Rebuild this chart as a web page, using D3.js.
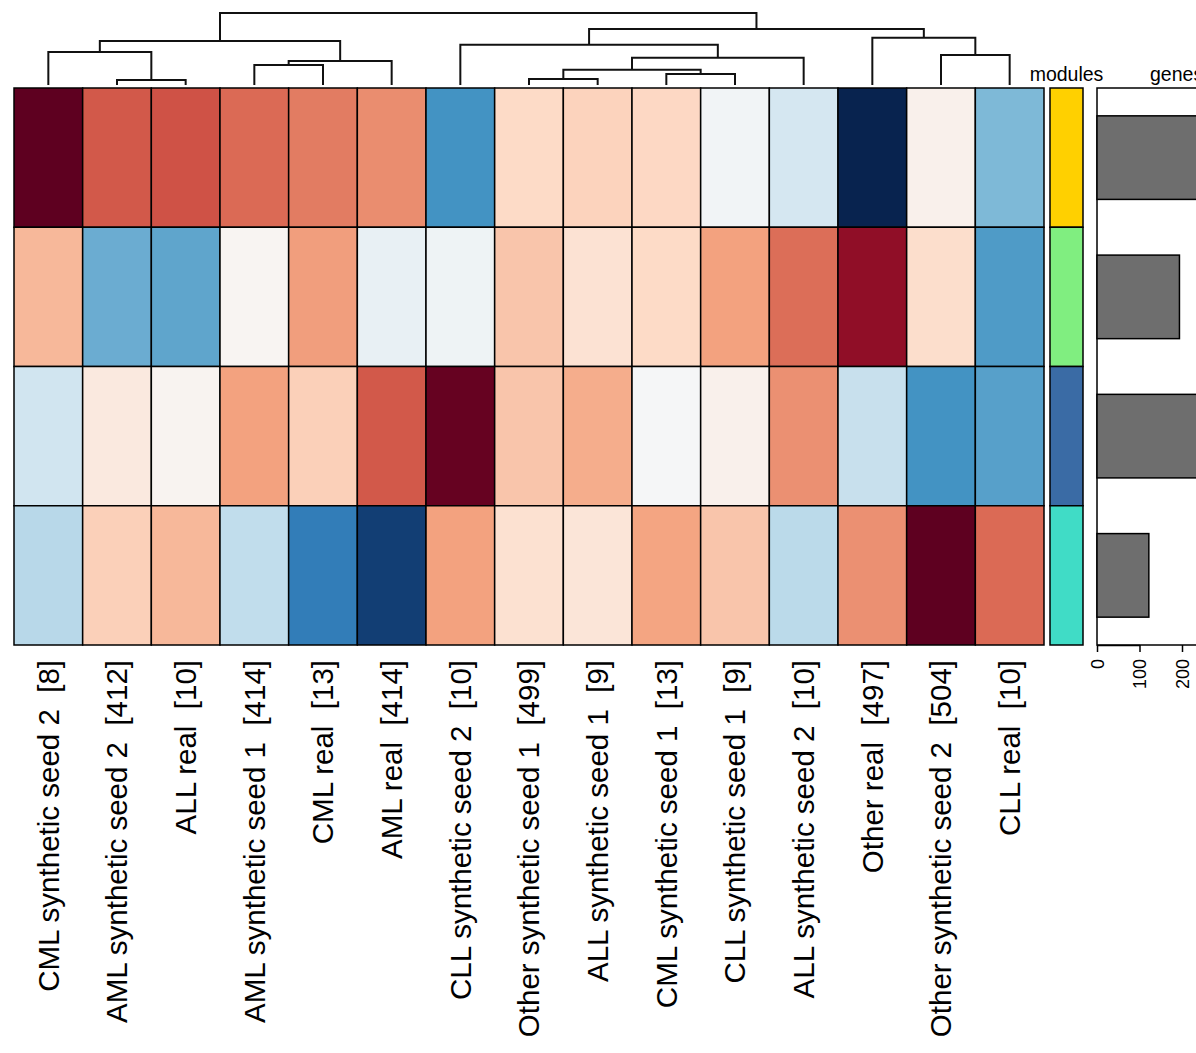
<!doctype html>
<html>
<head>
  <meta charset="utf8">
  <title>modules heatmap</title>
  <style>
    body {
      margin: 0;
      padding: 0;
      background: #fff;
    }
    svg text {
      font-family: "Liberation Sans", Arial, sans-serif;
      white-space: pre;
    }
  </style>
</head>
<body>
  <svg id="chart"></svg>

  <script src="https://d3js.org/d3.v7.min.js"></script>
  <script>
    // columns, in the order the clustering puts them
    const samples = [
      'CML synthetic seed 2  [8]', 'AML synthetic seed 2  [412]', 'ALL real  [10]',
      'AML synthetic seed 1  [414]', 'CML real  [13]', 'AML real  [414]',
      'CLL synthetic seed 2  [10]', 'Other synthetic seed 1  [499]', 'ALL synthetic seed 1  [9]',
      'CML synthetic seed 1  [13]', 'CLL synthetic seed 1  [9]', 'ALL synthetic seed 2  [10]',
      'Other real  [497]', 'Other synthetic seed 2  [504]', 'CLL real  [10]'
    ]

    const modules = ['gold', 'lightgreen', 'blue', 'turquoise']
    const moduleColors = ['#ffd000', '#80ee80', '#3a6ba5', '#40dcc6']
    const genes = [268, 194, 250, 122]

    // scaled module eigengene values, one row per module
    const values = [
      [1.00, 0.62, 0.64, 0.57, 0.52, 0.47, -0.60, 0.20, 0.23, 0.21, -0.03, -0.18, -1.00, 0.05, -0.45],
      [0.33, -0.50, -0.53, 0.02, 0.42, -0.08, -0.05, 0.28, 0.15, 0.20, 0.41, 0.56, 0.88, 0.18, -0.57],
      [-0.20, 0.10, 0.03, 0.41, 0.24, 0.62, 0.98, 0.28, 0.37, -0.01, 0.05, 0.46, -0.23, -0.60, -0.55],
      [-0.28, 0.24, 0.33, -0.25, -0.70, -0.92, 0.41, 0.16, 0.13, 0.40, 0.28, -0.27, 0.46, 1.00, 0.57]
    ]

    // column dendrogram, hclust style: negative = leaf -(i+1), positive = earlier merge (1-based)
    const merges = [
      [-2, -3, 0.69],
      [-1, 1, 4.58],
      [-4, -5, 2.78],
      [3, -6, 3.33],
      [2, 4, 6.11],
      [-8, -9, 0.83],
      [-10, -11, 1.53],
      [6, 7, 2.13],
      [8, -12, 3.79],
      [-7, 9, 5.60],
      [-14, -15, 4.17],
      [-13, 11, 6.57],
      [10, 12, 7.78],
      [5, 13, 10.0]
    ]

    const geneTicks = [0, 100, 200]

    const width = 1196
    const height = 1053

    const svg = d3.select('#chart')
      .attr('width', width)
      .attr('height', height)

    const x = d3.scaleBand()
      .domain(d3.range(samples.length))
      .range([14, 1044])

    const y = d3.scaleBand()
      .domain(d3.range(modules.length))
      .range([88, 645])

    const palette = ['#08234f', '#2166ac', '#4393c3', '#92c5de', '#d1e5f0', '#f7f7f7',
      '#fddbc7', '#f4a582', '#d6604d', '#b2182b', '#5e0020']
    const color = d3.scaleLinear()
      .domain(d3.range(palette.length).map(i => -1 + 2 * i / (palette.length - 1)))
      .range(palette)
      .clamp(true)

    // heatmap cells
    const cells = []
    values.forEach((row, r) => row.forEach((v, c) => cells.push({ r, c, v })))

    svg.append('g')
      .selectAll('rect')
      .data(cells)
      .join('rect')
      .attr('x', d => x(d.c))
      .attr('y', d => y(d.r))
      .attr('width', x.bandwidth())
      .attr('height', y.bandwidth())
      .style('fill', d => color(d.v))
      .style('stroke', '#000')
      .style('stroke-width', 1.5)

    // dendrogram
    const h = d3.scaleLinear().domain([0, 10]).range([85, 13])
    const nodes = []
    function pos (id) {
      if (id < 0) return { x: x(-id - 1) + x.bandwidth() / 2, hgt: 0 }
      return nodes[id - 1]
    }
    const dg = svg.append('g')
      .style('fill', 'none')
      .style('stroke', '#111')
      .style('stroke-width', 2)

    merges.forEach(([a, b, hgt]) => {
      const pa = pos(a)
      const pb = pos(b)
      nodes.push({ x: (pa.x + pb.x) / 2, hgt })
      dg.append('path')
        .attr('d', `M${pa.x},${h(pa.hgt)}V${h(hgt)}H${pb.x}V${h(pb.hgt)}`)
    })

    // column labels
    svg.append('g')
      .selectAll('text')
      .data(samples)
      .join('text')
      .attr('transform', (d, i) => `translate(${x(i) + x.bandwidth() / 2},660) rotate(-90)`)
      .attr('dy', '0.35em')
      .style('text-anchor', 'end')
      .style('font-size', '29.5px')
      .text(d => d)

    // module colour strip
    svg.append('g')
      .selectAll('rect')
      .data(moduleColors)
      .join('rect')
      .attr('x', 1050)
      .attr('y', (d, i) => y(i))
      .attr('width', 33)
      .attr('height', y.bandwidth())
      .style('fill', d => d)
      .style('stroke', '#000')
      .style('stroke-width', 1.5)

    svg.append('text')
      .attr('x', 1066.5)
      .attr('y', 81)
      .style('text-anchor', 'middle')
      .style('font-size', '19.5px')
      .text('modules')

    // gene counts
    const gx = d3.scaleLinear().domain([0, 100]).range([1097, 1139.5])
    const yb = d3.scaleBand()
      .domain(d3.range(modules.length))
      .range([88, 645])
      .paddingInner(0.4)
      .paddingOuter(0.2)

    svg.append('rect')
      .attr('x', gx(0))
      .attr('y', 88)
      .attr('width', 200)
      .attr('height', 557)
      .style('fill', 'none')
      .style('stroke', '#000')
      .style('stroke-width', 1.5)

    svg.append('g')
      .selectAll('rect')
      .data(genes)
      .join('rect')
      .attr('x', gx(0))
      .attr('y', (d, i) => yb(i))
      .attr('width', d => gx(d) - gx(0))
      .attr('height', yb.bandwidth())
      .style('fill', '#6e6e6e')
      .style('stroke', '#000')
      .style('stroke-width', 1.5)

    const axis = svg.append('g')
      .attr('transform', 'translate(0,645)')
      .call(d3.axisBottom(gx).tickValues(geneTicks).tickSize(7).tickSizeOuter(0))
    axis.select('.domain').style('stroke-width', 1.5)
    axis.selectAll('.tick line').style('stroke-width', 1.5)
    axis.selectAll('.tick text')
      .attr('transform', 'rotate(-90)')
      .attr('x', -14)
      .attr('y', 0)
      .attr('dy', '0.35em')
      .style('text-anchor', 'end')
      .style('font-size', '18px')
      .style('font-family', '"Liberation Sans", Arial, sans-serif')

    svg.append('text')
      .attr('x', 1150)
      .attr('y', 81)
      .style('text-anchor', 'start')
      .style('font-size', '19.5px')
      .text('genes')
  </script>
</body>
</html>
